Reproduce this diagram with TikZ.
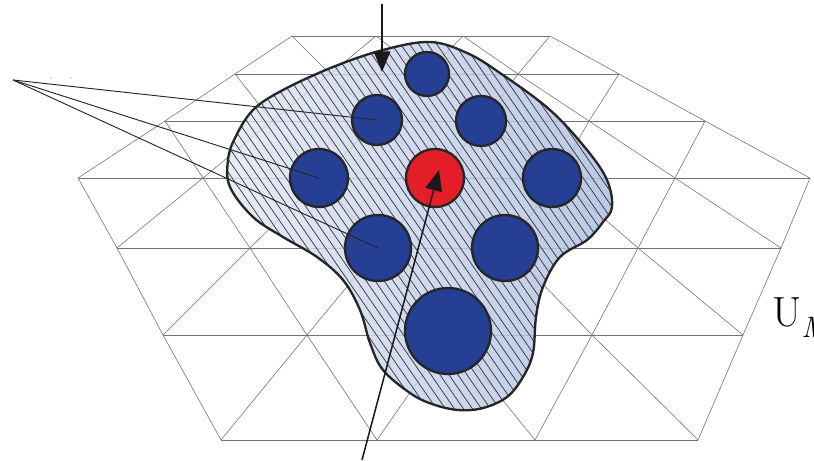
\documentclass[tikz,border=0pt]{standalone}
\usepackage{amsmath,amssymb}
\usetikzlibrary{arrows.meta}
\definecolor{dotblue}{RGB}{37,63,148}
\definecolor{dotred}{RGB}{228,30,38}
\definecolor{blobl}{RGB}{226,231,244}
\definecolor{blobr}{RGB}{172,189,225}

\begin{document}
\begin{tikzpicture}[x=0.03cm, y=-0.03cm, mesh/.style={black!55, line width=0.5pt}, hatch/.style={black!80, line width=0.6pt}, dot/.style={draw=black!85, line width=2pt, circle, fill=dotblue, inner sep=0pt}, hot/.style={dot, fill=dotred}, ptr/.style={black!85, line width=0.8pt}, arr/.style={black!90, line width=1.3pt, -{Triangle[length=0.62cm, width=0.5cm]}}]
	\useasboundingbox (0,0) rectangle (814,461);
	\clip (0,0) rectangle (814,461);
	% mesh vertices, row by row
	\foreach \y/\xs [count=\r from 0] in {36/{292,376,463,550}, 74/{235,330,425,518,619}, 121/{165,272,378,484,589,705}, 178/{78,203,321,439,557,675,810}, 248/{117,250,379,508,638,781}, 335/{163,307,450,592,743}, 440/{221,377,535,698}} {
		\foreach \x [count=\i from 0] in \xs {\coordinate (v\r-\i) at (\x,\y);}
	}
	\foreach \r/\n in {0/3, 1/4, 2/5, 3/6, 4/5, 5/4, 6/3} {\draw[mesh] (v\r-0) -- (v\r-\n);}
	\foreach \r/\n in {0/3, 1/4, 2/5} {
		\foreach \i in {0,...,\n} {\pgfmathtruncatemacro\j{\i+1}\pgfmathtruncatemacro\s{\r+1}\draw[mesh] (v\r-\i) -- (v\s-\i) (v\r-\i) -- (v\s-\j);}
	}
	\foreach \r/\n in {4/5, 5/4, 6/3} {
		\foreach \i in {0,...,\n} {\pgfmathtruncatemacro\j{\i+1}\pgfmathtruncatemacro\s{\r-1}\draw[mesh] (v\r-\i) -- (v\s-\i) (v\r-\i) -- (v\s-\j);}
	}
	% hatched domain
	\path[draw=black!85, line width=2pt, left color=blobl, right color=blobr, fill opacity=0.82, path picture={\foreach \c in {-120,-111,...,640} {\draw[hatch] (\c,20) -- ++(290,420);}}] plot[smooth cycle, tension=0.6] coordinates {(430,42) (467,53) (500,73) (550,110) (587,150) (607,180) (612,207) (603,222) (587,240) (560,257) (543,287) (536,317) (533,353) (523,377) (507,397) (483,408) (458,410) (432,404) (410,393) (383,370) (370,343) (360,310) (343,280) (317,257) (283,237) (253,217) (230,187) (228,160) (235,138) (253,110) (283,90) (333,67) (383,50)};
	% particles
	\node[dot, minimum size=1.32cm] (p1) at (427,74) {};
	\node[dot, minimum size=1.5cm] (p2) at (377,120) {};
	\node[dot, minimum size=1.5cm] (p3) at (481,121) {};
	\node[dot, minimum size=1.74cm] (p4) at (319,178) {};
	\node[hot, minimum size=1.74cm] (p5) at (435,178) {};
	\node[dot, minimum size=1.74cm] (p6) at (552,178) {};
	\node[dot, minimum size=1.98cm] (p7) at (378,248) {};
	\node[dot, minimum size=1.98cm] (p8) at (505,248) {};
	\node[dot, minimum size=2.58cm] (p9) at (448,331) {};
	% pointers
	\coordinate (fan) at (13,80);
	\foreach \p in {p2, p4, p7} {\draw[ptr] (fan) -- (\p.center);}
	\fill[black!45] (51,78) circle (0.7) (71,78) circle (0.7);
	\coordinate (topin) at (382,4);
	\coordinate (toptip) at (382,72);
	\draw[arr] (topin) -- (toptip);
	\coordinate (botin) at (362,460);
	\coordinate (bottip) at (439,170);
	\draw[arr] (botin) -- (bottip);
	\node[anchor=base west, inner sep=0pt] (um) at (772,327) {\fontsize{36}{40}\selectfont U\textsubscript{\itshape M}};
\end{tikzpicture}
\end{document}
